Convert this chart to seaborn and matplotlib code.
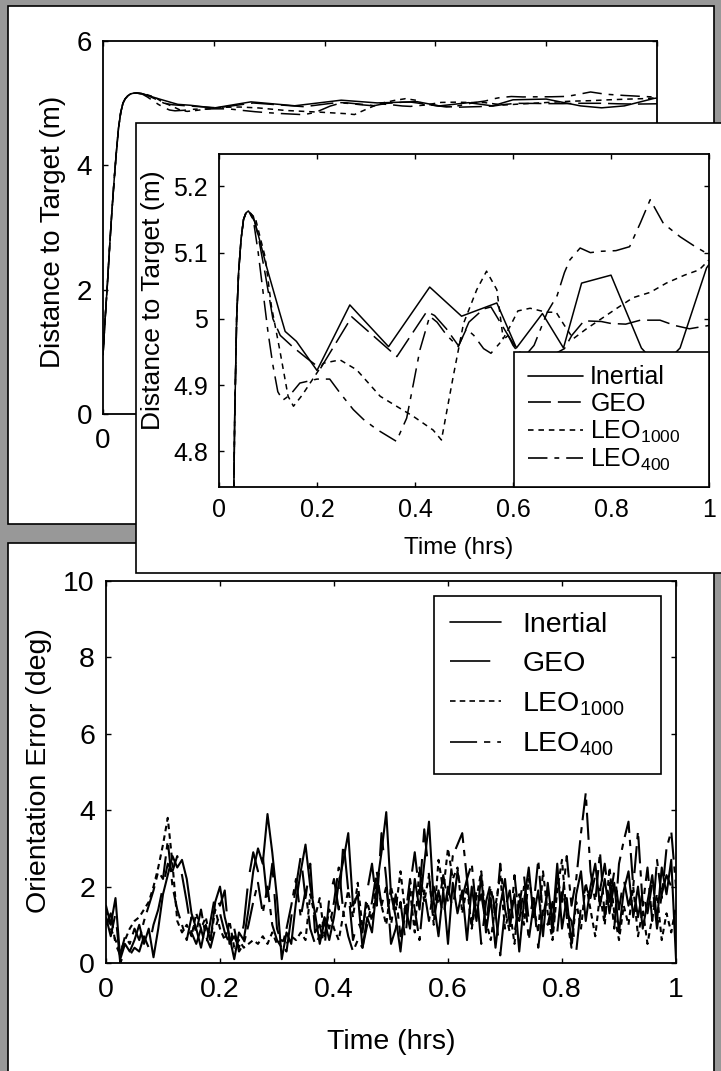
import numpy as np
import matplotlib
matplotlib.use("Agg")
import matplotlib.pyplot as plt
from matplotlib.patches import Rectangle
from matplotlib.lines import Line2D
import seaborn as sns

# ---------------------------------------------------------------- data
# Distance to target (m) versus time (hrs); all runs share the initial approach.
rise_t = [0.0, 0.004, 0.008, 0.012, 0.016, 0.02, 0.024, 0.028, 0.032, 0.036,
          0.04, 0.045, 0.05, 0.055]
rise_d = [0.95, 1.55, 2.1, 2.7, 3.25, 3.75, 4.2, 4.6, 4.85, 5.0,
          5.07, 5.12, 5.15, 5.16]

inertial_t = [0.06, 0.073, 0.097, 0.124, 0.135, 0.158, 0.2, 0.267, 0.346, 0.43,
              0.495, 0.567, 0.607, 0.66, 0.703, 0.74, 0.8, 0.862, 0.9, 0.941,
              0.995, 1.0]
inertial_d = [5.163, 5.147, 5.079, 5.009, 4.981, 4.966, 4.922, 5.021, 4.958, 5.048,
              5.004, 5.024, 4.956, 5.008, 4.956, 5.054, 5.066, 4.956, 4.925, 4.956,
              5.077, 5.082]

geo_t = [0.06, 0.07, 0.08, 0.095, 0.11, 0.125, 0.15, 0.18, 0.207, 0.271,
         0.363, 0.424, 0.44, 0.464, 0.489, 0.51, 0.54, 0.555, 0.59, 0.61,
         0.64, 0.68, 0.705, 0.72, 0.745, 0.78, 0.8, 0.83, 0.86, 0.9,
         0.93, 0.96, 1.0]
geo_d = [5.163, 5.155, 5.125, 5.065, 5.0, 4.975, 4.958, 4.94, 4.925, 5.003,
         4.943, 5.011, 5.005, 4.985, 4.959, 4.995, 5.015, 5.018, 4.975, 4.952,
         4.935, 4.945, 4.955, 4.975, 4.997, 4.996, 4.993, 4.992, 4.998, 4.998,
         4.99, 4.985, 4.99]

leo1000_t = [0.06, 0.075, 0.085, 0.094, 0.107, 0.124, 0.141, 0.152, 0.17, 0.186,
             0.213, 0.247, 0.281, 0.329, 0.369, 0.396, 0.437, 0.454, 0.478, 0.499,
             0.526, 0.546, 0.567, 0.58, 0.595, 0.61, 0.635, 0.668, 0.688, 0.705,
             0.723, 0.75, 0.78, 0.81, 0.845, 0.88, 0.913, 0.95, 0.98, 1.0]
leo1000_d = [5.163, 5.15, 5.12, 5.094, 5.019, 4.953, 4.883, 4.868, 4.885, 4.903,
             4.933, 4.938, 4.923, 4.883, 4.865, 4.853, 4.832, 4.817, 4.913, 4.993,
             5.044, 5.072, 5.044, 4.97, 4.99, 5.012, 5.016, 5.01, 5.01, 4.99,
             4.97, 4.985, 5.0, 5.015, 5.032, 5.04, 5.054, 5.066, 5.074, 5.089]

leo400_t = [0.06, 0.07, 0.08, 0.09, 0.1, 0.11, 0.12, 0.13, 0.145, 0.165,
            0.2, 0.226, 0.247, 0.274, 0.295, 0.322, 0.362, 0.383, 0.397, 0.41,
            0.43, 0.445, 0.465, 0.488, 0.505, 0.52, 0.54, 0.555, 0.575, 0.59,
            0.6, 0.62, 0.643, 0.67, 0.69, 0.705, 0.716, 0.737, 0.758, 0.778,
            0.81, 0.838, 0.86, 0.88, 0.907, 0.941, 0.97, 1.0]
leo400_d = [5.163, 5.15, 5.1, 5.04, 4.98, 4.93, 4.89, 4.877, 4.885, 4.903,
            4.909, 4.909, 4.888, 4.863, 4.848, 4.833, 4.815, 4.85, 4.903, 4.953,
            5.004, 4.995, 4.975, 4.958, 4.985, 4.975, 4.955, 4.948, 4.965, 4.975,
            4.96, 4.94, 4.96, 5.01, 5.035, 5.07, 5.089, 5.107, 5.1, 5.102,
            5.103, 5.109, 5.145, 5.18, 5.144, 5.124, 5.11, 5.097]

# Orientation error (deg), sampled every 30 s over the first hour.
orient_inertial = [1.5, 1.0, 1.7, 0.1, 0.5, 0.3, 0.6, 1.0, 0.5, 0.9,
                   0.15, 0.9, 1.8, 2.3, 2.8, 2.5, 2.7, 2.2, 1.3, 0.9,
                   0.4, 1.0, 0.6, 1.6, 2.0, 1.2, 0.7, 0.1, 0.8, 0.6,
                   1.4, 2.4, 3.0, 2.6, 3.9, 2.9, 1.7, 0.1, 0.8, 0.5,
                   1.6, 2.4, 3.1, 2.0, 1.3, 0.5, 1.1, 0.6, 1.2, 2.1,
                   2.7, 3.4, 1.5, 1.8, 0.4, 1.2, 0.8, 2.0, 2.9, 3.95,
                   1.8, 1.2, 0.3, 1.5, 0.9, 2.2, 1.4, 2.6, 3.7, 1.6,
                   0.7, 1.9, 0.5, 2.1, 1.3, 1.9, 0.6, 2.0, 1.1, 2.3,
                   0.8, 1.7, 0.4, 1.5, 2.2, 1.0, 1.8, 0.3, 1.6, 2.5,
                   1.2, 1.9, 0.7, 2.1, 1.0, 2.6, 0.9, 1.7, 0.5, 1.8,
                   2.4, 1.1, 2.0, 2.6, 1.5, 2.2, 1.3, 2.1, 0.8, 1.9,
                   2.4, 1.2, 2.0, 0.9, 1.6, 2.3, 1.1, 2.5, 1.8, 2.7,
                   0.1]
orient_geo = [1.2, 0.7, 1.3, 0.0, 0.3, 0.2, 0.4, 0.3, 0.7, 0.4,
              1.0, 1.4, 2.0, 2.6, 2.4, 2.8, 2.3, 1.6, 0.8, 0.5,
              0.9, 0.4, 1.1, 1.8, 1.5, 1.9, 0.5, 0.7, 0.4, 1.0,
              2.2, 2.9, 2.4, 2.8, 1.6, 2.6, 0.9, 0.5, 0.3, 1.2,
              2.0, 2.8, 1.7, 2.6, 0.8, 1.0, 0.4, 1.7, 2.2, 1.4,
              3.2, 1.9, 0.6, 1.1, 0.8, 1.9, 2.6, 1.5, 3.4, 2.2,
              0.5, 0.9, 1.6, 0.6, 2.0, 2.9, 1.8, 3.5, 2.3, 1.1,
              1.9, 1.2, 2.0, 1.4, 2.4, 1.7, 2.2, 1.0, 1.9, 0.5,
              1.6, 2.1, 1.3, 0.2, 1.4, 1.9, 0.8, 1.5, 2.3, 1.1,
              1.7, 0.4, 1.4, 1.0, 1.6, 0.8, 2.0, 1.3, 1.1, 0.3,
              1.5, 2.0, 1.7, 2.3, 1.9, 2.6, 1.6, 2.4, 1.4, 2.2,
              1.5, 2.0, 1.2, 1.9, 1.3, 2.1, 0.9, 1.8, 2.3, 2.0,
              2.4]
orient_leo1000 = [1.4, 0.9, 0.6, 0.3, 0.6, 0.9, 1.1, 1.2, 1.4, 1.6,
                  2.0, 2.5, 3.1, 3.8, 2.6, 1.1, 0.8, 1.0, 0.7, 1.3,
                  0.9, 1.2, 0.6, 1.4, 0.9, 0.6, 1.1, 0.4, 0.6, 0.4,
                  0.5, 0.6, 0.5, 0.7, 0.5, 0.8, 0.5, 0.6, 0.5, 0.7,
                  0.6, 0.8, 0.6, 1.8, 1.2, 1.7, 0.7, 1.4, 0.9, 0.6,
                  1.3, 1.9, 1.2, 2.1, 0.9, 1.6, 1.1, 2.2, 1.5, 1.0,
                  2.0, 1.4, 2.4, 1.3, 1.9, 0.8, 2.5, 1.6, 2.3, 1.0,
                  2.7, 1.9, 3.0, 2.2, 2.5, 1.3, 2.0, 0.9, 1.7, 2.4,
                  1.1, 0.6, 1.5, 2.3, 0.9, 1.4, 0.5, 1.8, 1.0, 2.2,
                  1.5, 0.8, 2.4, 1.3, 0.6, 1.9, 2.7, 1.2, 0.4, 1.6,
                  0.9, 2.1, 1.4, 0.7, 1.8, 1.0, 2.5, 1.3, 0.6, 1.5,
                  1.0, 2.0, 0.7, 1.4, 0.5, 1.2, 1.8, 0.6, 1.3, 0.8,
                  1.5]
orient_leo400 = [1.0, 1.3, 0.5, 0.2, 0.7, 0.5, 0.9, 0.6, 1.1, 1.5,
                 1.9, 2.4, 2.2, 3.2, 2.0, 1.4, 1.0, 0.6, 1.2, 0.8,
                 1.4, 0.7, 0.4, 0.9, 1.3, 0.8, 0.5, 0.9, 0.3, 0.5,
                 1.0, 1.6, 2.1, 1.3, 2.0, 1.0, 0.6, 0.4, 0.9, 1.5,
                 2.2, 1.2, 1.9, 0.9, 0.5, 0.7, 1.2, 0.9, 1.6, 2.5,
                 1.3, 0.7, 0.3, 0.6, 0.4, 1.0, 1.6, 2.4, 1.5, 2.0,
                 1.0, 1.8, 0.7, 1.2, 2.2, 1.4, 0.6, 1.9, 1.1, 2.0,
                 1.5, 2.3, 1.6, 2.8, 3.1, 3.4, 2.2, 2.6, 1.3, 1.8,
                 1.0, 2.0, 1.2, 2.6, 1.4, 0.8, 2.3, 1.1, 2.0, 0.6,
                 1.5, 2.7, 1.2, 1.9, 0.8, 2.3, 1.6, 2.8, 1.5, 2.2,
                 3.4, 4.45, 2.4, 1.6, 2.9, 1.2, 2.1, 0.9, 2.6, 3.2,
                 3.7, 2.0, 3.45, 1.5, 2.5, 1.1, 2.7, 1.7, 3.0, 3.45,
                 2.0]

series_names = ["Inertial", "GEO", "LEO$_{1000}$", "LEO$_{400}$"]
time_ticks = [0, 0.2, 0.4, 0.6, 0.8, 1]
time_labels = ["0", "0.2", "0.4", "0.6", "0.8", "1"]
dist_ticks = [0, 2, 4, 6]
dist_labels = ["0", "2", "4", "6"]
zoom_ticks = [4.8, 4.9, 5.0, 5.1, 5.2]
zoom_labels = ["4.8", "4.9", "5", "5.1", "5.2"]
orient_ticks = [0, 2, 4, 6, 8, 10]
orient_labels = ["0", "2", "4", "6", "8", "10"]

# ---------------------------------------------------------------- style
sns.set_theme(style="white")
plt.rcParams["font.family"] = ["Liberation Sans", "DejaVu Sans"]
plt.rcParams["mathtext.fontset"] = "custom"
plt.rcParams["mathtext.rm"] = "Liberation Sans"
plt.rcParams["mathtext.it"] = "Liberation Sans:italic"
plt.rcParams["mathtext.bf"] = "Liberation Sans:bold"
plt.rcParams["lines.scale_dashes"] = False
plt.rcParams["text.color"] = "black"
plt.rcParams["axes.labelcolor"] = "black"

W, H, DPI = 721, 1071, 100
fig = plt.figure(figsize=(W / DPI, H / DPI), dpi=DPI, facecolor="#989898")


def box(x0, y0, x1, y1):
    """Pixel box (top-left origin) -> figure-fraction [left, bottom, w, h]."""
    return [x0 / W, 1 - y1 / H, (x1 - x0) / W, (y1 - y0) / H]


def panel(x0, y0, x1, y1, z):
    l, b, w, h = box(x0, y0, x1, y1)
    fig.add_artist(Rectangle((l, b), w, h, transform=fig.transFigure,
                             facecolor="white", edgecolor="black",
                             linewidth=1.2, zorder=z))


def frame(ax, fs, pad_x, pad_y):
    for sp in ax.spines.values():
        sp.set_visible(True)
        sp.set_color("black")
        sp.set_linewidth(1.3)
    ax.set_facecolor("white")
    ax.tick_params(direction="in", length=3.6, width=1.0, colors="black",
                   top=True, right=True, bottom=True, left=True,
                   labelsize=fs)
    ax.tick_params(axis="x", pad=pad_x)
    ax.tick_params(axis="y", pad=pad_y)


def draw(ax, t, v, ls, lw):
    sns.lineplot(x=np.asarray(t, float), y=np.asarray(v, float), ax=ax,
                 color="black", linewidth=lw, linestyle=ls,
                 estimator=None, sort=False, legend=False)


def legend(ax, handles, x0, y0, x1, y1, loc, fs, **kw):
    l, b, w, h = box(x0, y0, x1, y1)
    leg = ax.legend(handles, series_names, loc=loc, bbox_to_anchor=(l, b, w, h),
                    bbox_transform=fig.transFigure, mode="expand",
                    borderaxespad=0, fontsize=fs, frameon=True, fancybox=False,
                    framealpha=1, facecolor="white", edgecolor="black", **kw)
    leg.get_frame().set_linewidth(1.2)
    return leg


dist_series = [
    (rise_t + inertial_t, rise_d + inertial_d),
    (rise_t + geo_t, rise_d + geo_d),
    (rise_t + leo1000_t, rise_d + leo1000_d),
    (rise_t + leo400_t, rise_d + leo400_d),
]
dist_styles = ["-", (0, (16.5, 5)), (0, (4, 3.5)), (0, (14, 5, 3.5, 5))]

orient_series = [orient_inertial, orient_geo, orient_leo1000, orient_leo400]
orient_styles = ["-", (0, (29, 12)), (0, (4, 3)), (0, (19.5, 5, 4.5, 5))]

# ---------------------------------------------------------------- panel 1: full range
panel(8, 6, 714, 524, 1)
ax1 = fig.add_axes(box(103, 41, 657, 414))
ax1.set_zorder(2)
for (t, v), ls in zip(dist_series, dist_styles):
    draw(ax1, t, v, ls, 1.1)
ax1.set_xlim(0, 1)
ax1.set_ylim(0, 6)
# only the origin label is left uncovered by the zoomed panel
ax1.set_xticks(time_ticks, [time_labels[0]] + [""] * (len(time_ticks) - 1))
ax1.set_yticks(dist_ticks, dist_labels)
frame(ax1, 20, 10, 8)
ax1.set_xlabel("")
ax1.set_ylabel("Distance to Target (m)", fontsize=20)
ax1.yaxis.set_label_coords(-0.067, 0.488)

# ---------------------------------------------------------------- panel 3: orientation error
panel(8, 543, 714, 1080, 3)
ax3 = fig.add_axes(box(106, 581, 676, 963))
ax3.set_zorder(4)
for vals, ls in zip(orient_series, orient_styles):
    t = np.linspace(0, 1, len(vals))
    draw(ax3, t, vals, ls, 1.5)
ax3.set_xlim(0, 1)
ax3.set_ylim(0, 10)
ax3.set_xticks(time_ticks, time_labels)
ax3.set_yticks(orient_ticks, orient_labels)
frame(ax3, 20.5, 10, 8)
ax3.set_xlabel("Time (hrs)", fontsize=20.5)
ax3.set_ylabel("Orientation Error (deg)", fontsize=20.5)
ax3.xaxis.set_label_coords(0.5, -0.172)
ax3.yaxis.set_label_coords(-0.095, 0.503)
h3 = [Line2D([], [], color="black", lw=1.2, linestyle=ls) for ls in orient_styles]
legend(ax3, h3, 434, 596, 661, 774, "upper left", 20.5,
       handlelength=1.8, handletextpad=0.74, borderpad=0.56, labelspacing=0.46)

# ---------------------------------------------------------------- panel 2: zoomed distance
panel(136, 123, 730, 573, 5)
ax2 = fig.add_axes(box(219, 154, 709, 487))
ax2.set_zorder(6)
for (t, v), ls in zip(dist_series, dist_styles):
    draw(ax2, t, v, ls, 1.1)
ax2.set_xlim(0, 1)
ax2.set_ylim(4.746, 5.249)
ax2.set_xticks(time_ticks, time_labels)
ax2.set_yticks(zoom_ticks, zoom_labels)
frame(ax2, 18, 8, 8)
ax2.set_xlabel("Time (hrs)", fontsize=17.5)
ax2.set_ylabel("Distance to Target (m)", fontsize=19)
ax2.xaxis.set_label_coords(0.49, -0.15)
ax2.yaxis.set_label_coords(-0.110, 0.562)
h2 = [Line2D([], [], color="black", lw=1.2, linestyle=ls) for ls in dist_styles]
legend(ax2, h2, 514, 350, 709, 487, "lower left", 18,
       handlelength=2.2, handletextpad=0.3, borderpad=0.55, labelspacing=0.1)

fig.savefig("out.png", dpi=DPI, facecolor=fig.get_facecolor())
